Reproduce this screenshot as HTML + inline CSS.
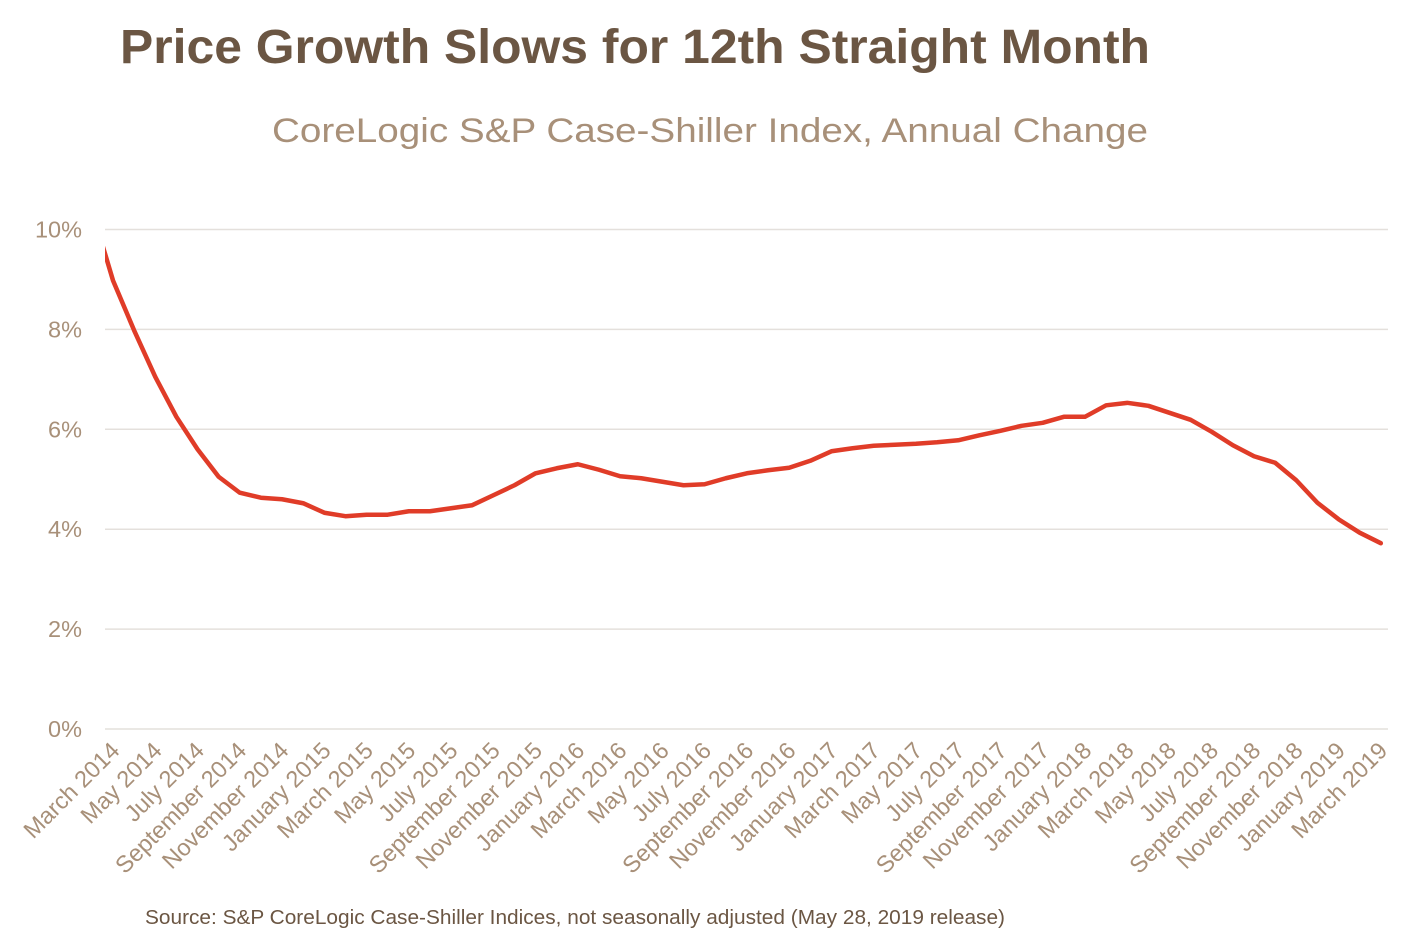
<!DOCTYPE html>
<html><head><meta charset="utf-8"><style>
html,body{margin:0;padding:0;background:#fff;}
svg{display:block;font-family:"Liberation Sans",Arial,sans-serif;}
</style></head><body>
<svg id="chart" width="1420" height="944" viewBox="0 0 1420 944">
<text x="120" y="63" font-size="48" font-weight="bold" fill="#6b5643" textLength="1030" lengthAdjust="spacingAndGlyphs">Price Growth Slows for 12th Straight Month</text>
<text x="272" y="142" font-size="34" fill="#a89079" textLength="876" lengthAdjust="spacingAndGlyphs">CoreLogic S&amp;P Case-Shiller Index, Annual Change</text>
<defs><clipPath id="plotclip"><rect x="105" y="200" width="1290" height="540"/></clipPath></defs>
<g id="grid"></g>
<g id="yaxis"></g>
<g id="xaxis"></g>
<g clip-path="url(#plotclip)"><path id="line" fill="none" stroke="#e03c28" stroke-width="4.5" stroke-linejoin="round" stroke-linecap="round"/></g>
<text x="145" y="924" font-size="20.5" fill="#6b5643" textLength="860" lengthAdjust="spacingAndGlyphs">Source:  S&amp;P CoreLogic Case-Shiller Indices, not seasonally adjusted (May 28, 2019 release)</text>
</svg>
<script>
const months = ["February 2014","March 2014","April 2014","May 2014","June 2014","July 2014","August 2014","September 2014","October 2014","November 2014","December 2014","January 2015","February 2015","March 2015","April 2015","May 2015","June 2015","July 2015","August 2015","September 2015","October 2015","November 2015","December 2015","January 2016","February 2016","March 2016","April 2016","May 2016","June 2016","July 2016","August 2016","September 2016","October 2016","November 2016","December 2016","January 2017","February 2017","March 2017","April 2017","May 2017","June 2017","July 2017","August 2017","September 2017","October 2017","November 2017","December 2017","January 2018","February 2018","March 2018","April 2018","May 2018","June 2018","July 2018","August 2018","September 2018","October 2018","November 2018","December 2018","January 2019","February 2019","March 2019"];
const values = [10.4,8.98,7.98,7.05,6.25,5.6,5.05,4.73,4.63,4.6,4.52,4.33,4.26,4.29,4.29,4.36,4.36,4.42,4.48,4.68,4.88,5.12,5.22,5.3,5.19,5.06,5.02,4.95,4.88,4.9,5.02,5.12,5.18,5.23,5.37,5.56,5.62,5.67,5.69,5.71,5.74,5.78,5.88,5.97,6.07,6.13,6.25,6.25,6.48,6.53,6.47,6.33,6.19,5.95,5.68,5.46,5.33,4.98,4.53,4.2,3.93,3.72];
const yTicks = [0,2,4,6,8,10];
const yTickLabels = ["0%","2%","4%","6%","8%","10%"];
const NS="http://www.w3.org/2000/svg";
const x0=91.87, step=21.13;
function xs(i){return x0+step*i;}
function ys(v){return 729-v*49.95;}
const grid=document.getElementById('grid'), yaxis=document.getElementById('yaxis'), xaxis=document.getElementById('xaxis');
yTicks.forEach((t,k)=>{
  const l=document.createElementNS(NS,'line');
  l.setAttribute('x1',105);l.setAttribute('x2',1388);
  l.setAttribute('y1',ys(t));l.setAttribute('y2',ys(t));
  l.setAttribute('stroke','#e4e0dc');l.setAttribute('stroke-width','1.5');
  
  
  grid.appendChild(l);
  const tx=document.createElementNS(NS,'text');
  tx.setAttribute('x',82);tx.setAttribute('y',ys(t)+8);
  tx.setAttribute('text-anchor','end');tx.setAttribute('font-size','23.5');tx.setAttribute('fill','#a89079');
  tx.textContent=yTickLabels[k];
  
  
  yaxis.appendChild(tx);
});
for(let i=1;i<months.length;i+=2){
  const x=xs(i)+8, y=752;
  const tx=document.createElementNS(NS,'text');
  tx.setAttribute('transform','translate('+x+','+y+') rotate(-45)');
  tx.setAttribute('text-anchor','end');tx.setAttribute('font-size','23.5');tx.setAttribute('fill','#a89079');
  tx.textContent=months[i];
  
  
  xaxis.appendChild(tx);
}
document.getElementById('line').setAttribute('d',values.map((v,i)=>(i?'L':'M')+xs(i).toFixed(2)+','+ys(v).toFixed(2)).join(' '));
</script>
</body></html>
